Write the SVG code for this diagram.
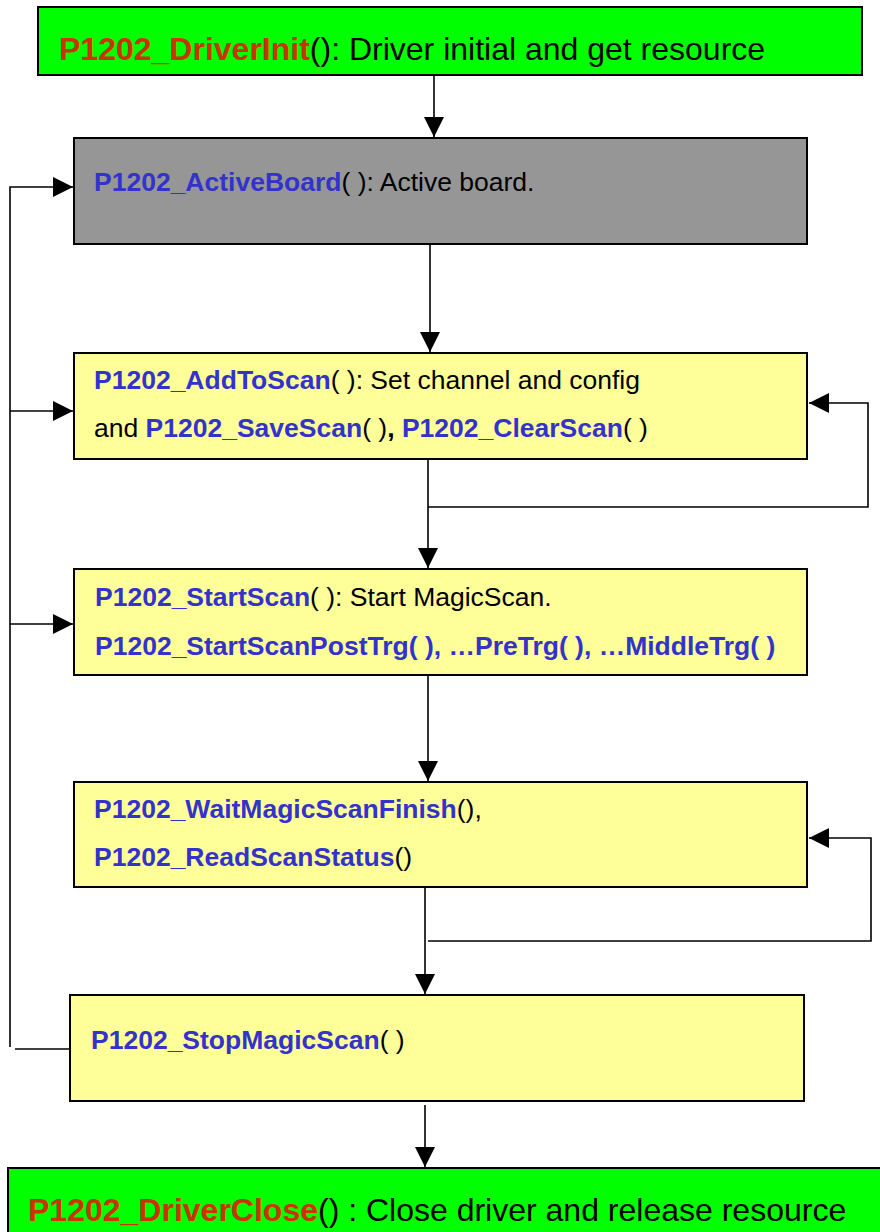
<svg xmlns="http://www.w3.org/2000/svg" width="880" height="1232" viewBox="0 0 880 1232">
<style>
.box{stroke:#000;stroke-width:2}
.green{fill:#00FF00}
.gray{fill:#969696}
.yellow{fill:#FFFF99}
text{font-family:"Liberation Sans",Arial,sans-serif;fill:#000}
.big{font-size:32px}
.mid{font-size:26.5px}
.b{font-weight:bold}
.red{fill:#CC3300;font-weight:bold}
.blue{fill:#3333CC;font-weight:bold}
.con{stroke:#000;stroke-width:1.6;fill:none}
</style>
<defs>
<marker id="ah" markerUnits="userSpaceOnUse" markerWidth="20" markerHeight="20" refX="20" refY="10" orient="auto">
<path d="M0,0 L20,10 L0,20 z" fill="#000"/>
</marker>
</defs>
<rect width="880" height="1232" fill="#fff"/>
<g id="connectors">
<line class="con" x1="434" y1="76" x2="434" y2="137" marker-end="url(#ah)"/>
<line class="con" x1="430" y1="245" x2="430" y2="352" marker-end="url(#ah)"/>
<line class="con" x1="428" y1="460" x2="428" y2="568" marker-end="url(#ah)"/>
<polyline class="con" points="428,507 868,507 868,403 809,403" marker-end="url(#ah)"/>
<line class="con" x1="428" y1="676" x2="428" y2="781" marker-end="url(#ah)"/>
<line class="con" x1="425" y1="888" x2="425" y2="994" marker-end="url(#ah)"/>
<polyline class="con" points="428,941 871,941 871,838 809,838" marker-end="url(#ah)"/>
<line class="con" x1="425" y1="1105" x2="425" y2="1167" marker-end="url(#ah)"/>
<line class="con" x1="70" y1="1049" x2="15" y2="1049"/>
<polyline class="con" points="10,1047 10,187 73,187" marker-end="url(#ah)"/>
<line class="con" x1="10" y1="411" x2="73" y2="411" marker-end="url(#ah)"/>
<line class="con" x1="10" y1="624" x2="73" y2="624" marker-end="url(#ah)"/>
</g>
<g id="driverInit">
<rect class="box green" x="38" y="7" width="824" height="68"/>
<text class="big" x="59" y="60"><tspan class="red">P1202_DriverInit</tspan>(): Driver initial and get resource</text>
</g>
<g id="activeBoard">
<rect class="box gray" x="74" y="138" width="733" height="106"/>
<text class="mid" x="94" y="191"><tspan class="blue">P1202_ActiveBoard</tspan>( ): Active board.</text>
</g>
<g id="addToScan">
<rect class="box yellow" x="74" y="353" width="733" height="106"/>
<text class="mid" x="94" y="389"><tspan class="blue">P1202_AddToScan</tspan>( ): Set channel and config</text>
<text class="mid" x="94" y="437">and <tspan class="blue">P1202_SaveScan</tspan>( )<tspan class="b">,</tspan> <tspan class="blue">P1202_ClearScan</tspan>( )</text>
</g>
<g id="startScan">
<rect class="box yellow" x="74" y="569" width="733" height="106"/>
<text class="mid" x="95" y="606"><tspan class="blue">P1202_StartScan</tspan>( ): Start MagicScan.</text>
<text class="mid blue" x="95" y="655">P1202_StartScanPostTrg( ), …PreTrg( ), …MiddleTrg( )</text>
</g>
<g id="waitScan">
<rect class="box yellow" x="74" y="782" width="733" height="105"/>
<text class="mid" x="94" y="818"><tspan class="blue">P1202_WaitMagicScanFinish</tspan>(),</text>
<text class="mid" x="94" y="866"><tspan class="blue">P1202_ReadScanStatus</tspan>()</text>
</g>
<g id="stopScan">
<rect class="box yellow" x="70" y="995" width="734" height="106"/>
<text class="mid" x="91" y="1049"><tspan class="blue">P1202_StopMagicScan</tspan>( )</text>
</g>
<g id="driverClose">
<rect class="box green" x="8" y="1168" width="890" height="80"/>
<text class="big" x="28" y="1221"><tspan class="red">P1202_DriverClose</tspan>() : Close driver and release resource</text>
</g>
</svg>
